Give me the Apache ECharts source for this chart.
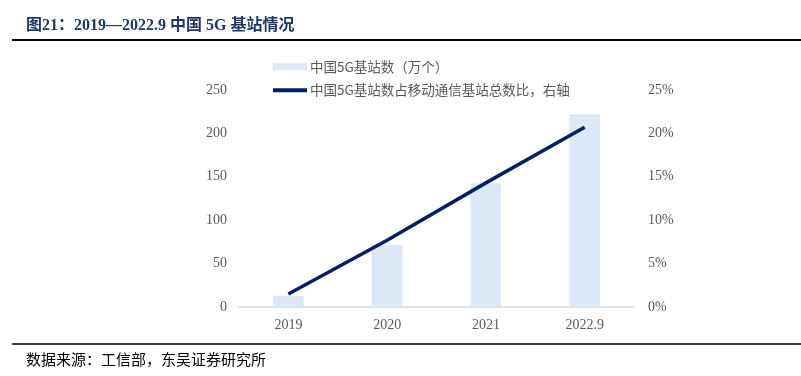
<!DOCTYPE html>
<html>
<head>
<meta charset="utf-8">
<script src="https://cdn.jsdelivr.net/npm/echarts@6/dist/echarts.min.js"></script>
<style>
  html, body { margin: 0; padding: 0; background: #fff; }
  #main { width: 801px; height: 376px; }
</style>
</head>
<body>
<div id="main"></div>
<script>
// 数据
var years = ['2019', '2020', '2021', '2022.9'];
var stations = [13, 71.8, 142.5, 222];        // 中国5G基站数（万个）
var sharePct = [1.5, 7.7, 14.3, 20.7];         // 占移动通信基站总数比 (%)
var leftTicks = [0, 50, 100, 150, 200, 250];
var rightTicks = [0, 5, 10, 15, 20, 25];

var serif = '"Liberation Serif", "Noto Sans CJK SC", serif';
var cjk = '"Noto Sans CJK SC", sans-serif';

var myChart = echarts.init(document.getElementById('main'));
myChart.setOption({
  animation: false,
  title: [{
    text: '图21：2019—2022.9 中国 5G 基站情况',
    left: 21, top: 13,
    textStyle: { fontFamily: serif, fontWeight: 'bold', fontSize: 16, color: '#1f3864' }
  }, {
    text: '数据来源：工信部，东吴证券研究所',
    left: 21, top: 347,
    textStyle: { fontFamily: cjk, fontWeight: 'normal', fontSize: 15, color: '#000' }
  }],
  graphic: [
    { type: 'line', shape: { x1: 12, y1: 40, x2: 801, y2: 40 }, style: { stroke: '#000', lineWidth: 2 } },
    { type: 'line', shape: { x1: 12, y1: 344, x2: 801, y2: 344 }, style: { stroke: '#000', lineWidth: 1.5 } }
  ],
  legend: {
    orient: 'vertical',
    left: 268, top: 55,
    itemWidth: 34, itemHeight: 10, itemGap: 10,
    textStyle: { fontFamily: cjk, fontSize: 13.5, color: '#595959', padding: [0, 0, 0, -2] },
    data: [
      { name: '中国5G基站数（万个）', icon: 'path://M0,0 H31 V6.5 H0 Z' },
      { name: '中国5G基站数占移动通信基站总数比，右轴', icon: 'path://M0,0 H34 V3.8 H0 Z' }
    ]
  },
  grid: { left: 239, right: 167, top: 90, bottom: 69 },
  xAxis: {
    type: 'category',
    data: years,
    axisLine: { lineStyle: { color: '#d9d9d9', width: 1.5 } },
    axisTick: { show: false },
    axisLabel: { fontFamily: serif, fontSize: 14, color: '#595959', margin: 11 }
  },
  yAxis: [{
    type: 'value', min: leftTicks[0], max: leftTicks[leftTicks.length - 1], interval: 50,
    splitLine: { show: false },
    axisLine: { show: false }, axisTick: { show: false },
    axisLabel: { fontFamily: serif, fontSize: 14, color: '#595959', margin: 12 }
  }, {
    type: 'value', min: rightTicks[0], max: rightTicks[rightTicks.length - 1], interval: 5,
    splitLine: { show: false },
    axisLine: { show: false }, axisTick: { show: false },
    axisLabel: { fontFamily: serif, fontSize: 14, color: '#595959', margin: 14, formatter: '{value}%' }
  }],
  series: [{
    name: '中国5G基站数（万个）',
    type: 'bar',
    data: stations,
    barWidth: '31%',
    itemStyle: { color: '#dce8f5' }
  }, {
    name: '中国5G基站数占移动通信基站总数比，右轴',
    type: 'line',
    yAxisIndex: 1,
    data: sharePct,
    symbol: 'none',
    lineStyle: { color: '#002060', width: 3.5 },
    itemStyle: { color: '#002060' }
  }]
});
</script>
</body>
</html>
